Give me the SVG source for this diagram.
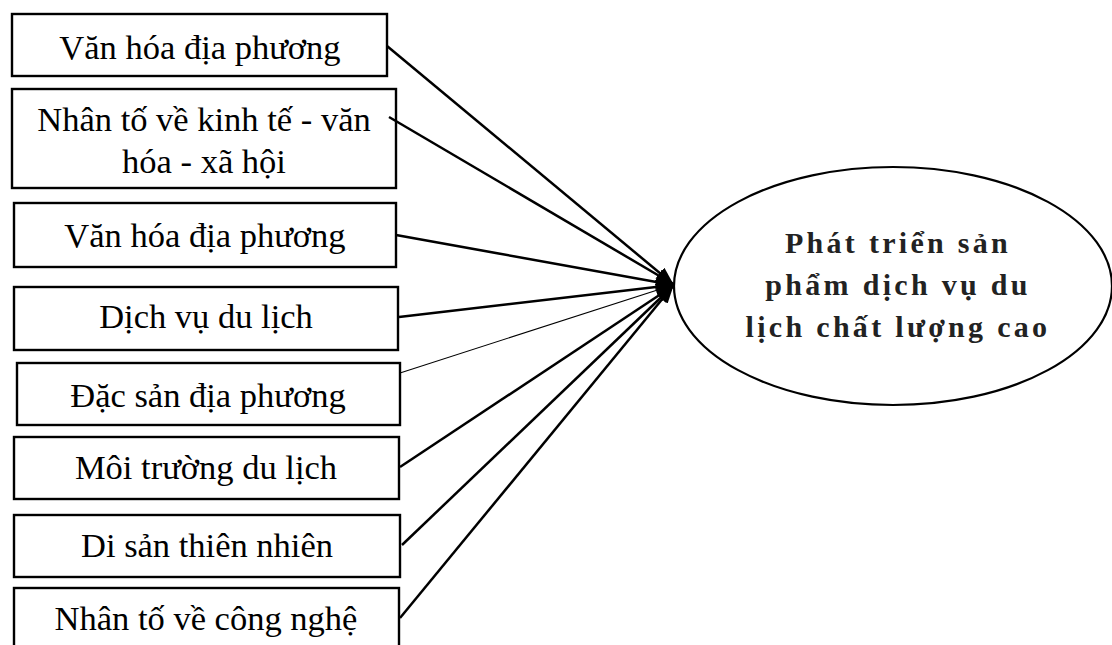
<svg xmlns="http://www.w3.org/2000/svg" width="1112" height="645" viewBox="0 0 1112 645">
  <defs>
    <style>
      .box { fill: #ffffff; stroke: #000000; stroke-width: 2.4; }
      .lbl { font-family: "Liberation Serif", "Times New Roman", serif; font-size: 34.5px; fill: #000000; text-anchor: middle; }
      .goal { fill: #ffffff; stroke: #000000; stroke-width: 2.2; }
      .goal-lbl { font-family: "Liberation Serif", "Times New Roman", serif; font-size: 30px; font-weight: bold; fill: #222222; text-anchor: middle; letter-spacing: 3.3px; }
      .link { stroke: #000000; stroke-width: 2.5; fill: none; marker-end: url(#arrow); }
      .link.thin { stroke-width: 1.1; }
    </style>
    <marker id="arrow" markerUnits="userSpaceOnUse" markerWidth="18" markerHeight="14" viewBox="0 0 18 14" refX="17" refY="7" orient="auto">
      <path d="M0,0 L18,7 L0,14 Z" fill="#000000"/>
    </marker>
  </defs>

  <!-- factor boxes -->
  <g id="node-van-hoa-1">
    <rect class="box" x="12" y="14" width="375" height="62"/>
    <text class="lbl" x="200" y="59">Văn hóa địa phương</text>
  </g>
  <g id="node-kinh-te-van-hoa-xa-hoi">
    <rect class="box" x="12" y="89" width="384" height="99"/>
    <text class="lbl" x="204" y="131">Nhân tố về kinh tế - văn</text>
    <text class="lbl" x="204" y="173">hóa - xã hội</text>
  </g>
  <g id="node-van-hoa-2">
    <rect class="box" x="14" y="203" width="382" height="64"/>
    <text class="lbl" x="205" y="247">Văn hóa địa phương</text>
  </g>
  <g id="node-dich-vu">
    <rect class="box" x="14" y="287" width="384" height="63"/>
    <text class="lbl" x="206" y="328">Dịch vụ du lịch</text>
  </g>
  <g id="node-dac-san">
    <rect class="box" x="17" y="363" width="383" height="62"/>
    <text class="lbl" x="208" y="407">Đặc sản địa phương</text>
  </g>
  <g id="node-moi-truong">
    <rect class="box" x="14" y="437" width="385" height="62"/>
    <text class="lbl" x="206" y="479">Môi trường du lịch</text>
  </g>
  <g id="node-di-san">
    <rect class="box" x="14" y="515" width="386" height="62"/>
    <text class="lbl" x="207" y="557">Di sản thiên nhiên</text>
  </g>
  <g id="node-cong-nghe">
    <rect class="box" x="14" y="588" width="385" height="70"/>
    <text class="lbl" x="206" y="630">Nhân tố về công nghệ</text>
  </g>

  <!-- goal ellipse -->
  <g id="node-goal">
    <ellipse class="goal" cx="893" cy="286" rx="219" ry="119"/>
    <text class="goal-lbl" x="898" y="253">Phát triển sản</text>
    <text class="goal-lbl" x="898" y="295">phẩm dịch vụ du</text>
    <text class="goal-lbl" x="898" y="337">lịch chất lượng cao</text>
  </g>

  <!-- connectors -->
  <g id="connectors">
    <line class="link" x1="387" y1="46" x2="673" y2="284"/>
    <line class="link" x1="389" y1="117" x2="673" y2="284"/>
    <line class="link" x1="396" y1="235" x2="673" y2="285"/>
    <line class="link" x1="399" y1="317" x2="673" y2="285"/>
    <line class="link thin" x1="400" y1="373" x2="673" y2="285"/>
    <line class="link" x1="400" y1="467" x2="673" y2="286"/>
    <line class="link" x1="402" y1="545" x2="673" y2="286"/>
    <line class="link" x1="400" y1="618" x2="673" y2="286"/>
  </g>
</svg>
